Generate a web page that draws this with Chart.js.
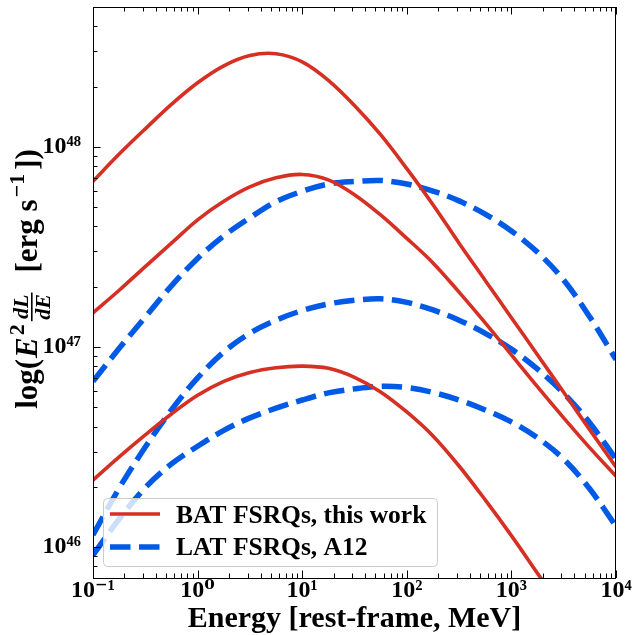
<!DOCTYPE html>
<html>
<head>
<meta charset="utf-8">
<title>FSRQs</title>
<script src="https://cdn.jsdelivr.net/npm/chart.js@4.4.1/dist/chart.umd.min.js"></script>
<style>
  html, body { margin: 0; padding: 0; background: #fff; }
  canvas { display: block; }
</style>
</head>
<body>
<canvas id="myChart" width="634" height="635"></canvas>
<script>
// energia en MeV (rest-frame)
const energias = [0.1, 0.178, 0.316, 0.562, 1, 1.78, 3.16, 5.62, 10, 17.8, 31.6, 56.2, 100, 178, 316, 562, 1000, 1780, 3160, 5620, 10000];

// BAT FSRQs, this work  (E^2 dL/dE en erg/s)
const batAlto  = [6.73e47, 9.20e47, 1.23e48, 1.63e48, 2.09e48, 2.54e48, 2.86e48, 2.92e48, 2.66e48, 2.15e48, 1.61e48, 1.15e48, 7.78e47, 5.14e47, 3.30e47, 2.15e47, 1.40e47, 9.12e46, 5.93e46, 3.85e46, 2.51e46];
const batMedio = [1.48e47, 1.92e47, 2.52e47, 3.30e47, 4.32e47, 5.35e47, 6.31e47, 7.00e47, 7.28e47, 6.84e47, 5.77e47, 4.57e47, 3.49e47, 2.63e47, 1.88e47, 1.32e47, 9.12e46, 6.31e46, 4.42e46, 3.13e46, 2.26e46];
const batBajo  = [2.16e46, 2.82e46, 3.63e46, 4.62e46, 5.73e46, 6.73e46, 7.45e46, 7.87e46, 8.02e46, 7.82e46, 7.05e46, 5.96e46, 4.73e46, 3.59e46, 2.54e46, 1.72e46, 1.14e46, 7.38e45, 4.79e45, 3.09e45, 2.00e45];

// LAT FSRQs, A12
const latAlto  = [6.73e46, 9.84e46, 1.41e47, 2.02e47, 2.77e47, 3.59e47, 4.42e47, 5.32e47, 6.00e47, 6.52e47, 6.71e47, 6.79e47, 6.52e47, 6.01e47, 5.37e47, 4.61e47, 3.80e47, 2.97e47, 2.16e47, 1.41e47, 8.65e46];
const latMedio = [1.15e46, 1.97e46, 3.16e46, 4.84e46, 7.00e46, 9.44e46, 1.17e47, 1.36e47, 1.52e47, 1.64e47, 1.71e47, 1.74e47, 1.67e47, 1.53e47, 1.36e47, 1.17e47, 9.75e46, 7.74e46, 5.87e46, 4.17e46, 2.75e46];
const latBajo  = [9.12e45, 1.38e46, 1.98e46, 2.60e46, 3.19e46, 3.83e46, 4.42e46, 4.94e46, 5.43e46, 5.89e46, 6.17e46, 6.35e46, 6.27e46, 5.92e46, 5.43e46, 4.84e46, 4.22e46, 3.51e46, 2.75e46, 1.95e46, 1.27e46];

// ticks
const xMayores = [0.1, 1, 10, 100, 1000, 10000];
const xEtiquetas = ['10⁻¹', '10⁰', '10¹', '10²', '10³', '10⁴'];
const yMayores = [1e46, 1e47, 1e48];
const yEtiquetas = ['10⁴⁶', '10⁴⁷', '10⁴⁸'];
const xMin = 0.1, xMax = 1e4;
const yMin = 7e45, yMax = 5e48;

const rojo = '#d62f24';
const azul = '#005ae6';
const fuente = '"Liberation Serif", "DejaVu Serif", serif';

function menores(mayores, min, max) {
  let lista = [];
  [mayores[0] / 10].concat(mayores).forEach(m => {
    for (let k = 2; k <= 9; k++) {
      const v = m * k;
      if (v >= min * 0.999 && v < max * 0.999) lista.push(v);
    }
  });
  return lista;
}

function indice(v, lista) {
  return lista.findIndex(m => Math.abs(m - v) / m < 1e-6);
}

function puntos(valores) {
  return energias.map((e, i) => ({x: e, y: valores[i]}));
}

function tituloY(ctx) {
  const big = 'bold 31px ' + fuente;
  const bigIt = 'italic bold 31px ' + fuente;
  const sup = 'bold 22px ' + fuente;
  const fracF = 'italic bold 22px ' + fuente;
  const partes = [
    {t: 'log(', f: big, dy: 0, gap: 0},
    {t: 'E', f: bigIt, dy: 0, gap: 1},
    {t: '2', f: sup, dy: -13, gap: 2},
    {frac: ['dL', 'dE'], f: fracF, gap: 3},
    {t: '[erg s', f: big, dy: 0, gap: 20},
    {t: '−1', f: sup, dy: -13, gap: 2},
    {t: '])', f: big, dy: 0, gap: 4}
  ];
  let total = 0;
  partes.forEach(p => {
    ctx.font = p.f;
    if (p.frac) {
      p.w = Math.max(ctx.measureText(p.frac[0]).width, ctx.measureText(p.frac[1]).width) + 3;
    } else {
      p.w = ctx.measureText(p.t).width;
    }
    total += p.gap + p.w;
  });
  ctx.save();
  ctx.translate(37, 279);
  ctx.rotate(-Math.PI / 2);
  ctx.fillStyle = '#000';
  ctx.textBaseline = 'alphabetic';
  let x = -total / 2;
  partes.forEach(p => {
    x += p.gap;
    ctx.font = p.f;
    if (p.frac) {
      ctx.textAlign = 'center';
      ctx.fillText(p.frac[0], x + p.w / 2, -9);
      ctx.fillText(p.frac[1], x + p.w / 2, 13);
      ctx.fillRect(x, -6, p.w, 1.6);
      ctx.textAlign = 'left';
    } else {
      ctx.textAlign = 'left';
      ctx.fillText(p.t, x, p.dy);
    }
    x += p.w;
  });
  ctx.restore();
}

const marco = {
  id: 'marco',
  afterDatasetsDraw(chart) {
    const {ctx, chartArea: a, scales} = chart;
    ctx.save();
    ctx.strokeStyle = '#000';
    ctx.lineWidth = 1;
    ctx.beginPath();
    scales.x.ticks.forEach(t => {
      const px = Math.round(scales.x.getPixelForValue(t.value)) + 0.5;
      const len = indice(t.value, xMayores) >= 0 ? 7.5 : 4.5;
      ctx.moveTo(px, a.bottom); ctx.lineTo(px, a.bottom - len);
      ctx.moveTo(px, a.top); ctx.lineTo(px, a.top + len);
    });
    scales.y.ticks.forEach(t => {
      const py = Math.round(scales.y.getPixelForValue(t.value)) + 0.5;
      const len = indice(t.value, yMayores) >= 0 ? 7.5 : 4.5;
      ctx.moveTo(a.left, py); ctx.lineTo(a.left + len, py);
    });
    ctx.stroke();
    ctx.strokeRect(a.left + 0.5, a.top + 0.5, a.right - a.left - 1, a.bottom - a.top);
    ctx.restore();
  },
  afterDraw(chart) {
    const ctx = chart.ctx;
    const ds = chart.data.datasets;
    ctx.save();
    // leyenda dentro del grafico
    ctx.fillStyle = 'rgba(255,255,255,0.8)';
    ctx.strokeStyle = '#cccccc';
    ctx.lineWidth = 1;
    ctx.beginPath();
    ctx.roundRect(103.5, 498.5, 334, 68, 4);
    ctx.fill();
    ctx.stroke();
    ctx.lineWidth = 3.6;
    ctx.strokeStyle = rojo;
    ctx.beginPath(); ctx.moveTo(110, 514); ctx.lineTo(160, 514); ctx.stroke();
    ctx.lineWidth = 5.5;
    ctx.strokeStyle = azul;
    ctx.setLineDash([20.5, 8.5]);
    ctx.beginPath(); ctx.moveTo(110, 547); ctx.lineTo(160, 547); ctx.stroke();
    ctx.setLineDash([]);
    ctx.fillStyle = '#000';
    ctx.font = 'bold 25.5px ' + fuente;
    ctx.textBaseline = 'alphabetic';
    ctx.fillText(ds[0].label, 176, 523);
    ctx.fillText(ds[3].label, 176, 555);
    ctx.restore();
    tituloY(ctx);
  }
};

const estiloRojo = {borderColor: rojo, borderWidth: 3.6, pointRadius: 0, fill: false, tension: 0.35, clip: 0};
const estiloAzul = {borderColor: azul, borderWidth: 5.5, borderDash: [20.5, 8.5], pointRadius: 0, fill: false, tension: 0.35, clip: 0};

const ctx = document.getElementById('myChart');
const myChart = new Chart(ctx, {
  type: 'line',
  data: {
    datasets: [
      Object.assign({label: 'BAT FSRQs, this work', data: puntos(batAlto)}, estiloRojo),
      Object.assign({label: 'BAT FSRQs, this work', data: puntos(batMedio)}, estiloRojo),
      Object.assign({label: 'BAT FSRQs, this work', data: puntos(batBajo)}, estiloRojo),
      Object.assign({label: 'LAT FSRQs, A12', data: puntos(latAlto)}, estiloAzul),
      Object.assign({label: 'LAT FSRQs, A12', data: puntos(latMedio)}, estiloAzul),
      Object.assign({label: 'LAT FSRQs, A12', data: puntos(latBajo)}, estiloAzul)
    ]
  },
  options: {
    responsive: false,
    animation: false,
    devicePixelRatio: 1,
    layout: {padding: {top: 7, right: 18, left: 0, bottom: 0}},
    plugins: {legend: {display: false}, tooltip: {enabled: false}},
    scales: {
      x: {
        type: 'logarithmic',
        position: 'bottom',
        min: xMin,
        max: xMax,
        grid: {display: false},
        border: {display: false},
        afterBuildTicks: s => {
          s.ticks = xMayores.concat(menores(xMayores, xMin, xMax)).sort((a, b) => a - b).map(v => ({value: v}));
        },
        afterFit: s => { s.height = 57; },
        ticks: {
          autoSkip: false,
          maxRotation: 0,
          padding: -10,
          color: '#000',
          font: {family: fuente, weight: 'bold', size: 24},
          callback: v => { const i = indice(v, xMayores); return i >= 0 ? xEtiquetas[i] : ''; }
        },
        title: {
          display: true,
          text: 'Energy [rest-frame, MeV]',
          color: '#000',
          padding: {top: 0, bottom: -2},
          font: {family: fuente, weight: 'bold', size: 30}
        }
      },
      y: {
        type: 'logarithmic',
        position: 'left',
        min: yMin,
        max: yMax,
        grid: {display: false},
        border: {display: false},
        afterBuildTicks: s => {
          s.ticks = yMayores.concat(menores(yMayores, yMin, yMax)).sort((a, b) => a - b).map(v => ({value: v}));
        },
        afterFit: s => { s.width = 93; s.paddingTop = 0; s.paddingBottom = 0; },
        ticks: {
          autoSkip: false,
          padding: 4,
          color: '#000',
          font: {family: fuente, weight: 'bold', size: 24},
          callback: v => { const i = indice(v, yMayores); return i >= 0 ? yEtiquetas[i] : ''; }
        }
      }
    }
  },
  plugins: [marco]
});
</script>
</body>
</html>
